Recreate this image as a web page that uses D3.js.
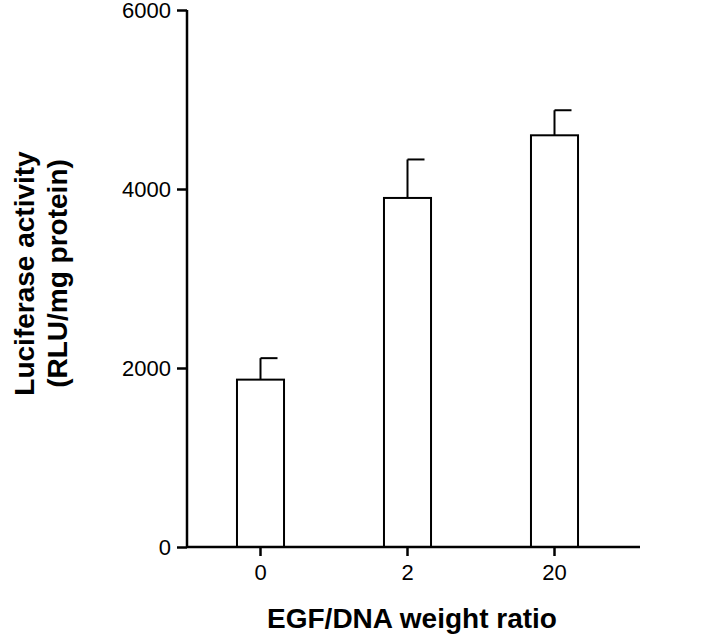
<!DOCTYPE html>
<html>
<head>
<meta charset="utf-8">
<script src="https://cdn.jsdelivr.net/npm/d3@7"></script>
<style>
  body { margin: 0; background: #fff; }
  text { font-family: "Liberation Sans", Arial, sans-serif; }
</style>
</head>
<body>
<div id="chart"></div>
<script>
const categories = ["0", "2", "20"];
const means = [1870, 3900, 4600];
const errors = [240, 430, 280];
const yTicks = [0, 2000, 4000, 6000];

const W = 725, H = 638;
const margin = { top: 10, right: 97, bottom: 91, left: 187 };
const width = W - margin.left - margin.right;
const height = H - margin.top - margin.bottom;

const svg = d3.select("#chart").append("svg")
  .attr("width", W).attr("height", H);
const g = svg.append("g")
  .attr("transform", `translate(${margin.left},${margin.top})`);

const x = d3.scaleBand().domain(categories).range([0, width]).paddingInner(0.68).paddingOuter(0.34);
const y = d3.scaleLinear().domain([0, 6000]).range([height, 0]);

// barras
g.selectAll(".bar").data(means).enter().append("rect")
  .attr("x", (d, i) => x(categories[i]))
  .attr("y", d => y(d))
  .attr("width", x.bandwidth())
  .attr("height", d => height - y(d))
  .attr("fill", "#fff").attr("stroke", "#000").attr("stroke-width", 2);

// barras de erro (só para cima)
const cx = i => x(categories[i]) + x.bandwidth() / 2;
g.selectAll(".err").data(means).enter().append("line")
  .attr("x1", (d, i) => cx(i)).attr("x2", (d, i) => cx(i))
  .attr("y1", d => y(d)).attr("y2", (d, i) => y(d + errors[i]))
  .attr("stroke", "#000").attr("stroke-width", 2);
g.selectAll(".cap").data(means).enter().append("line")
  .attr("x1", (d, i) => cx(i)).attr("x2", (d, i) => cx(i) + 17)
  .attr("y1", (d, i) => y(d + errors[i])).attr("y2", (d, i) => y(d + errors[i]))
  .attr("stroke", "#000").attr("stroke-width", 2);

// eixos
const yAxis = g.append("g")
  .call(d3.axisLeft(y).tickValues(yTicks).tickSize(10).tickPadding(6).tickFormat(d3.format("d")));
const xAxis = g.append("g").attr("transform", `translate(0,${height})`)
  .call(d3.axisBottom(x).tickSize(9).tickPadding(8));
[yAxis, xAxis].forEach(a => {
  a.selectAll("path, line").attr("stroke", "#000").attr("stroke-width", 2.5);
  a.selectAll("text").attr("fill", "#000").style("font-size", "22px");
});
xAxis.select("path").attr("d", `M0,0H${width + 12}`);
yAxis.select("path").attr("d", `M0,0V${height}`);

// títulos
svg.append("text").attr("x", margin.left + 225).attr("y", 628)
  .attr("text-anchor", "middle").style("font-size", "28px").style("font-weight", "bold")
  .text("EGF/DNA weight ratio");
const yt = svg.append("text").attr("transform", `translate(38,${margin.top + height / 2 - 5}) rotate(-90)`)
  .attr("text-anchor", "middle").style("font-size", "28px").style("font-weight", "bold");
yt.append("tspan").attr("x", 0).attr("dy", "-0.15em").text("Luciferase activity");
yt.append("tspan").attr("x", 0).attr("dy", "1.2em").text("(RLU/mg protein)");
</script>
</body>
</html>
